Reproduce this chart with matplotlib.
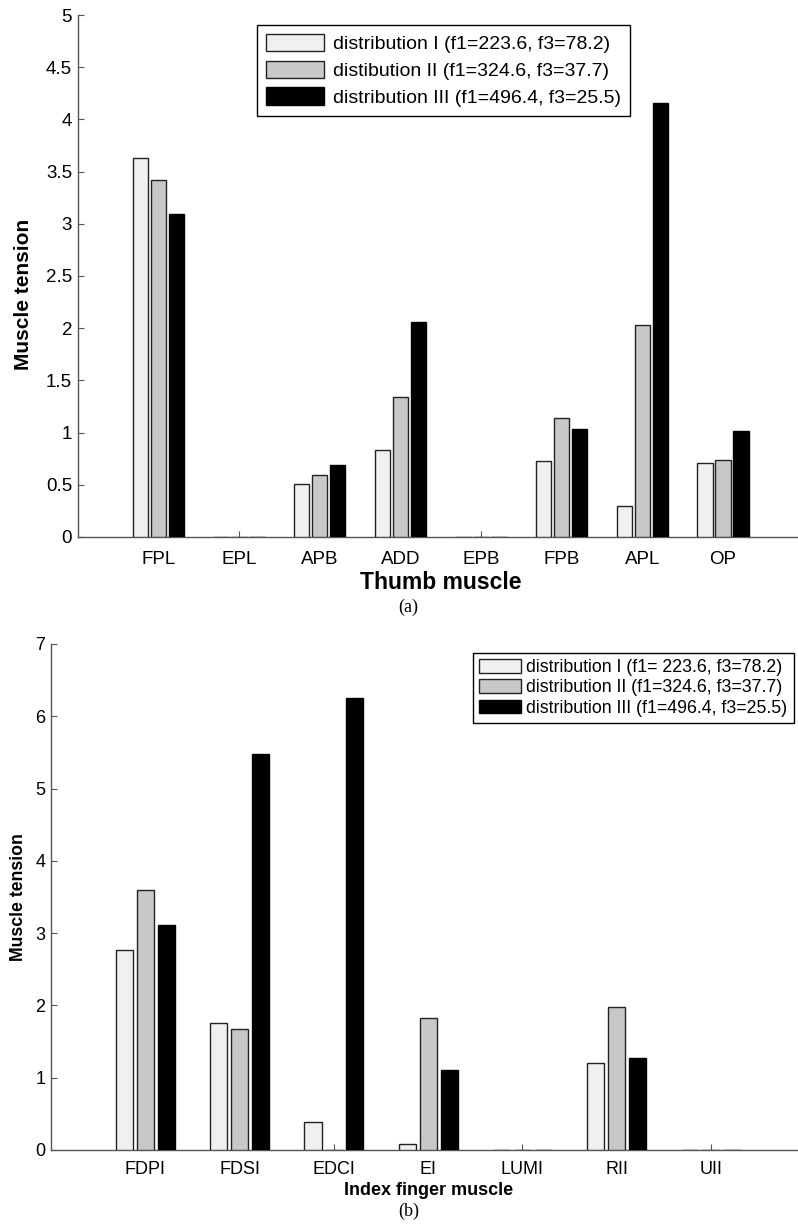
import matplotlib
matplotlib.use("Agg")
import matplotlib.pyplot as plt
import numpy as np

# ---- data ----
thumb_muscles = ["FPL", "EPL", "APB", "ADD", "EPB", "FPB", "APL", "OP"]
thumb_dist1 = [3.63, 0.0, 0.51, 0.83, 0.0, 0.73, 0.30, 0.71]
thumb_dist2 = [3.42, 0.0, 0.59, 1.34, 0.0, 1.14, 2.03, 0.74]
thumb_dist3 = [3.09, 0.0, 0.69, 2.06, 0.0, 1.03, 4.16, 1.02]
thumb_labels = ["distribution I (f1=223.6, f3=78.2)",
                "distibution II (f1=324.6, f3=37.7)",
                "distribution III (f1=496.4, f3=25.5)"]

index_muscles = ["FDPI", "FDSI", "EDCI", "EI", "LUMI", "RII", "UII"]
index_dist1 = [2.76, 1.76, 0.39, 0.08, 0.0, 1.21, 0.0]
index_dist2 = [3.60, 1.68, 0.0, 1.82, 0.0, 1.98, 0.0]
index_dist3 = [3.11, 5.48, 6.25, 1.11, 0.0, 1.27, 0.0]
index_labels = ["distribution I (f1= 223.6, f3=78.2)",
                "distribution II (f1=324.6, f3=37.7)",
                "distribution III (f1=496.4, f3=25.5)"]

colors = ["#f0f0f0", "#c8c8c8", "#000000"]
edge = "#222222"
spine_c = "#555555"

plt.rcParams['font.family'] = ['Liberation Sans', 'DejaVu Sans']

W, H = 798, 1225
fig = plt.figure(figsize=(W / 100, H / 100), dpi=100)


def px_axes(left, top, right, bottom):
    return fig.add_axes([left / W, 1 - bottom / H, (right - left) / W, (bottom - top) / H])


def style(ax, fs, xpad):
    for s in ["top", "right"]:
        ax.spines[s].set_visible(False)
    for s in ["left", "bottom"]:
        ax.spines[s].set_color(spine_c)
        ax.spines[s].set_linewidth(1.0)
    ax.tick_params(direction="in", length=4.5, width=0.8, color=spine_c, labelsize=fs)
    ax.tick_params(axis="x", pad=xpad)
    ax.tick_params(axis="y", pad=4)


# ---- top chart ----
ax1 = px_axes(77.6, 15, 77.6 + 9 * 80.67, 537)
x1 = np.arange(1, len(thumb_muscles) + 1)
w1, off = 0.19, 0.222
for i, (vals, c) in enumerate(zip([thumb_dist1, thumb_dist2, thumb_dist3], colors)):
    ax1.bar(x1 + (i - 1) * off, vals, width=w1, color=c, edgecolor=edge if i < 2 else "#000000",
            linewidth=1.0, label=thumb_labels[i], zorder=3)
ax1.set_xlim(0, 9)
ax1.set_ylim(0, 5)
ax1.set_xticks(x1)
ax1.set_xticklabels(thumb_muscles)
ax1.set_yticks(np.arange(0, 5.01, 0.5))
ax1.set_yticklabels(["0", "0.5", "1", "1.5", "2", "2.5", "3", "3.5", "4", "4.5", "5"])
style(ax1, 13.5, 10)
ax1.set_xlabel("Thumb muscle", fontsize=16.5, fontweight="bold", labelpad=2)
ax1.set_ylabel("Muscle tension", fontsize=15, fontweight="bold", va="center")
ax1.yaxis.set_label_coords((24 - 77.6) / (9 * 80.67), (537 - 294) / 522)

leg1 = ax1.legend(loc="upper left", bbox_to_anchor=(257 / W, 1 - 25 / H),
                  bbox_transform=fig.transFigure, fontsize=14, frameon=True,
                  fancybox=False, framealpha=1, edgecolor="#000000",
                  handlelength=3.0, handleheight=1.02, handletextpad=0.45,
                  labelspacing=0.38, borderpad=0.45, borderaxespad=0)
leg1.get_frame().set_linewidth(1.0)

# ---- bottom chart ----
ax2 = px_axes(51, 644, 51 + 8 * 94.3, 1150)
x2 = np.arange(1, len(index_muscles) + 1)
w2 = 0.183
for i, (vals, c) in enumerate(zip([index_dist1, index_dist2, index_dist3], colors)):
    ax2.bar(x2 + (i - 1) * off, vals, width=w2, color=c, edgecolor=edge if i < 2 else "#000000",
            linewidth=1.0, label=index_labels[i], zorder=3)
ax2.set_xlim(0, 8)
ax2.set_ylim(0, 7)
ax2.set_xticks(x2)
ax2.set_xticklabels(index_muscles)
ax2.set_yticks(np.arange(0, 8, 1))
style(ax2, 13, 8)
ax2.set_xlabel("Index finger muscle", fontsize=13, fontweight="bold", labelpad=3)
ax2.set_ylabel("Muscle tension", fontsize=12.7, fontweight="bold", va="center")
ax2.yaxis.set_label_coords((18.5 - 51) / (8 * 94.3), 0.5)

leg2 = ax2.legend(loc="upper left", bbox_to_anchor=(473 / W, 1 - 653 / H),
                  bbox_transform=fig.transFigure, fontsize=12.8, frameon=True,
                  fancybox=False, framealpha=1, edgecolor="#000000",
                  handlelength=2.35, handleheight=0.8, handletextpad=0.3,
                  labelspacing=0.18, borderpad=0.35, borderaxespad=0)
leg2.get_frame().set_linewidth(1.0)

# ---- captions ----
fig.text(408 / W, 1 - 607 / H, "(a)", ha="center", va="center",
         fontsize=13, family=["Liberation Serif", "DejaVu Serif"])
fig.text(409 / W, 1 - 1211 / H, "(b)", ha="center", va="center",
         fontsize=13, family=["Liberation Serif", "DejaVu Serif"])

fig.savefig("out.png", dpi=100)
